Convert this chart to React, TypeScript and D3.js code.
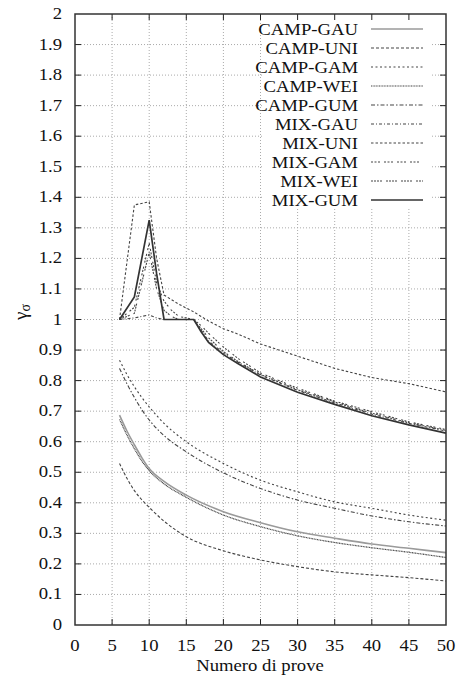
import React from "react";
import * as d3 from "d3";

const xTicks = [0, 5, 10, 15, 20, 25, 30, 35, 40, 45, 50];
const yTicks = [0, 0.1, 0.2, 0.3, 0.4, 0.5, 0.6, 0.7, 0.8, 0.9, 1, 1.1, 1.2, 1.3, 1.4, 1.5, 1.6, 1.7, 1.8, 1.9, 2];
const yTickLabels = ["0", "0.1", "0.2", "0.3", "0.4", "0.5", "0.6", "0.7", "0.8", "0.9", "1", "1.1", "1.2", "1.3", "1.4", "1.5", "1.6", "1.7", "1.8", "1.9", "2"];

const campX = [6, 7, 8, 9, 10, 12, 15, 20, 25, 30, 35, 40, 45, 50];
const campGau = [0.687, 0.635, 0.59, 0.548, 0.512, 0.47, 0.425, 0.371, 0.335, 0.305, 0.284, 0.265, 0.251, 0.237];
const campUni = [0.529, 0.48, 0.44, 0.41, 0.385, 0.34, 0.289, 0.243, 0.213, 0.191, 0.174, 0.164, 0.155, 0.144];
const campGam = [0.867, 0.82, 0.78, 0.745, 0.714, 0.66, 0.6, 0.529, 0.474, 0.436, 0.403, 0.382, 0.36, 0.343];
const campWei = [0.673, 0.622, 0.577, 0.537, 0.505, 0.462, 0.418, 0.36, 0.322, 0.292, 0.27, 0.253, 0.238, 0.221];
const campGum = [0.84, 0.79, 0.745, 0.705, 0.671, 0.62, 0.567, 0.498, 0.447, 0.409, 0.382, 0.357, 0.338, 0.324];

const mixX = [6, 8, 10, 11, 12, 13, 14, 16, 17, 18, 20, 22, 25, 30, 35, 40, 45, 50];
const mixGau = [1.0, 1.005, 1.015, 1.005, 1.0, 1.0, 1.0, 1.0, 0.965, 0.93, 0.89, 0.86, 0.818, 0.768, 0.727, 0.69, 0.66, 0.635];
const mixUni = [1.0, 1.375, 1.385, 1.2, 1.08, 1.065, 1.05, 1.025, 1.01, 0.995, 0.97, 0.952, 0.92, 0.88, 0.84, 0.81, 0.79, 0.763];
const mixGam = [1.0, 1.04, 1.25, 1.12, 1.06, 1.03, 1.01, 1.0, 0.98, 0.955, 0.91, 0.872, 0.825, 0.775, 0.733, 0.698, 0.665, 0.64];
const mixWei = [1.0, 1.02, 1.22, 1.1, 1.03, 1.01, 1.0, 1.0, 0.97, 0.94, 0.895, 0.862, 0.82, 0.77, 0.73, 0.693, 0.662, 0.637];
const mixGum = [1.0, 1.074, 1.325, 1.15, 1.0, 1.0, 1.0, 1.0, 0.96, 0.925, 0.885, 0.855, 0.812, 0.762, 0.722, 0.685, 0.655, 0.628];

const seriesNames = ["CAMP-GAU", "CAMP-UNI", "CAMP-GAM", "CAMP-WEI", "CAMP-GUM", "MIX-GAU", "MIX-UNI", "MIX-GAM", "MIX-WEI", "MIX-GUM"];

type Series = { name: string; xs: number[]; ys: number[]; color: string; width: number; dash: string; smooth: boolean };

const series: Series[] = [
  { name: "CAMP-GAU", xs: campX, ys: campGau, color: "#9a9a9a", width: 1.6, dash: "", smooth: true },
  { name: "CAMP-UNI", xs: campX, ys: campUni, color: "#444", width: 1.1, dash: "3,2", smooth: true },
  { name: "CAMP-GAM", xs: campX, ys: campGam, color: "#444", width: 1.1, dash: "2,2.5", smooth: true },
  { name: "CAMP-WEI", xs: campX, ys: campWei, color: "#444", width: 1.2, dash: "1,0.6", smooth: true },
  { name: "CAMP-GUM", xs: campX, ys: campGum, color: "#444", width: 1.1, dash: "4,2,1.5,2", smooth: true },
  { name: "MIX-GAU", xs: mixX, ys: mixGau, color: "#444", width: 1.1, dash: "3,2,1,2", smooth: false },
  { name: "MIX-UNI", xs: mixX, ys: mixUni, color: "#444", width: 1.1, dash: "2.5,2", smooth: false },
  { name: "MIX-GAM", xs: mixX, ys: mixGam, color: "#444", width: 1.1, dash: "2,1.5,2,1.5,2,4", smooth: false },
  { name: "MIX-WEI", xs: mixX, ys: mixWei, color: "#444", width: 1.1, dash: "2,1,2,1,2,1,2,4", smooth: false },
  { name: "MIX-GUM", xs: mixX, ys: mixGum, color: "#333", width: 1.7, dash: "", smooth: false },
];

const L = 75, R = 446, T = 14, B = 625;
const FONT = "Liberation Serif, Times New Roman, Times, DejaVu Serif, serif";
const SX = 1.1;

export default function App() {
  const x = d3.scaleLinear().domain([0, 50]).range([L, R]);
  const y = d3.scaleLinear().domain([0, 2]).range([B, T]);

  const lineFor = (s: Series) =>
    d3
      .line<number>()
      .x((_, i) => x(s.xs[i]))
      .y((v) => y(v))
      .curve(s.smooth ? d3.curveMonotoneX : d3.curveLinear)(s.ys) || "";

  const legX0 = 262, legX1 = 432, legY0 = 16, legY1 = 209;
  const rowY = (i: number) => 29 + i * 19;
  const ts: React.CSSProperties = { fontFamily: FONT };

  return (
    <svg width={457} height={675} style={{ position: "absolute", left: 0, top: 0, background: "#fff" }}>
      <rect x={0} y={0} width={457} height={675} fill="#fff" />
      {xTicks.slice(1, -1).map((t) => (
        <line key={"gx" + t} x1={x(t)} x2={x(t)} y1={T} y2={B} stroke="#aaa" strokeWidth={1} strokeDasharray="1,2" />
      ))}
      {yTicks.slice(1, -1).map((t) => (
        <line key={"gy" + t} x1={L} x2={R} y1={y(t)} y2={y(t)} stroke="#aaa" strokeWidth={1} strokeDasharray="1,2" />
      ))}
      <rect x={legX0} y={legY0} width={legX1 - legX0} height={legY1 - legY0} fill="#fff" />
      {series.map((s) => (
        <path key={s.name} d={lineFor(s)} fill="none" stroke={s.color} strokeWidth={s.width} strokeDasharray={s.dash || undefined} />
      ))}
      {series.map((s, i) => (
        <g key={"lg" + s.name}>
          <text
            transform={`translate(358,${rowY(i) + 6}) scale(${SX},1)`}
            textAnchor="end"
            style={ts}
            fontSize={17}
            fill="#111"
          >
            {seriesNames[i]}
          </text>
          <line x1={371} x2={423} y1={rowY(i)} y2={rowY(i)} stroke={s.color} strokeWidth={s.width} strokeDasharray={s.dash || undefined} />
        </g>
      ))}
      {xTicks.slice(1, -1).map((t) => (
        <g key={"tx" + t}>
          <line x1={x(t)} x2={x(t)} y1={B} y2={B - 6} stroke="#222" strokeWidth={1} />
          <line x1={x(t)} x2={x(t)} y1={T} y2={T + 6} stroke="#222" strokeWidth={1} />
        </g>
      ))}
      {yTicks.slice(1, -1).map((t) => (
        <g key={"ty" + t}>
          <line x1={L} x2={L + 6} y1={y(t)} y2={y(t)} stroke="#222" strokeWidth={1} />
          <line x1={R} x2={R - 6} y1={y(t)} y2={y(t)} stroke="#222" strokeWidth={1} />
        </g>
      ))}
      <rect x={L} y={T} width={R - L} height={B - T} fill="none" stroke="#333" strokeWidth={1.5} />
      {xTicks.map((t) => (
        <text
          key={"lx" + t}
          transform={`translate(${x(t)},651) scale(${SX},1)`}
          textAnchor="middle"
          style={ts}
          fontSize={17}
          fill="#111"
        >
          {t}
        </text>
      ))}
      {yTicks.map((t, i) => (
        <text
          key={"ly" + t}
          transform={`translate(62,${y(t) + 5}) scale(${SX},1)`}
          textAnchor="end"
          style={ts}
          fontSize={17}
          fill="#111"
        >
          {yTickLabels[i]}
        </text>
      ))}
      <text transform={`translate(260,671) scale(${SX},1)`} textAnchor="middle" style={ts} fontSize={17} fill="#111">
        Numero di prove
      </text>
      <text transform={`translate(27,312) rotate(-90)`} textAnchor="middle" style={ts} fontSize={19} fill="#111">
        γ<tspan fontSize={14} dy={3}>σ</tspan>
      </text>
    </svg>
  );
}
